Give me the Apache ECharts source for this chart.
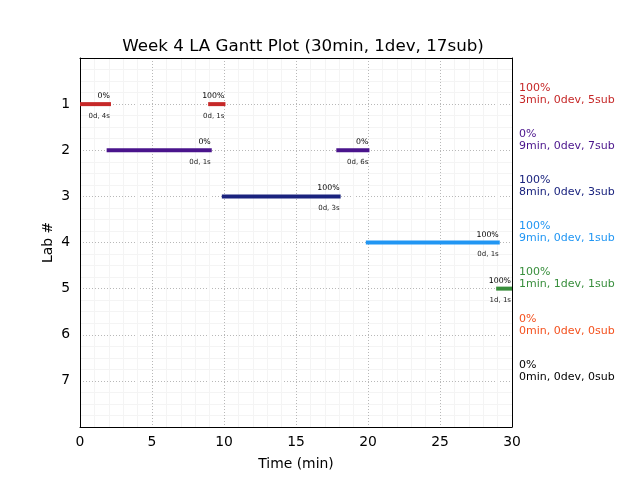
<!DOCTYPE html>
<html>
<head>
<meta charset="utf-8">
<script src="https://cdn.jsdelivr.net/npm/echarts@6/dist/echarts.min.js"></script>
<style>html,body{margin:0;padding:0;background:#fff}#c{width:640px;height:480px}</style>
</head>
<body>
<div id="c"></div>
<script>
// Tasks (one per bar)
var taskLab   = [1, 1, 2, 2, 3, 4, 5];
var taskStart = [0, 8.9, 1.85, 17.8, 9.85, 19.85, 28.9];
var taskEnd   = [2.15, 10.1, 9.15, 20.1, 18.1, 29.15, 30.2];
var taskPct   = ['0%', '100%', '0%', '0%', '100%', '100%', '100%'];
var taskDur   = ['0d, 4s', '0d, 1s', '0d, 1s', '0d, 6s', '0d, 3s', '0d, 1s', '1d, 1s'];

// Per-lab summary (right side)
var labs       = [1, 2, 3, 4, 5, 6, 7];
var labPct     = ['100%', '0%', '100%', '100%', '100%', '0%', '0%'];
var labSummary = ['3min, 0dev, 5sub', '9min, 0dev, 7sub', '8min, 0dev, 3sub', '9min, 0dev, 1sub',
                  '1min, 1dev, 1sub', '0min, 0dev, 0sub', '0min, 0dev, 0sub'];
var labColors  = ['#c62828', '#4a148c', '#1a237e', '#2196f3', '#388e3c', '#f4511e', '#000000'];

var xTicks = [0, 5, 10, 15, 20, 25, 30];
var yTicks = [1, 2, 3, 4, 5, 6, 7];

var FONT = 'DejaVu Sans';
var taskData = taskLab.map(function (l, i) { return [taskStart[i], taskEnd[i], l, i]; });
var labData = labs.map(function (l, i) { return [l, i]; });

var frameAxis = {
  axisLine: {show: true, onZero: false, lineStyle: {color: '#000', width: 1}},
  axisTick: {show: false}, axisLabel: {show: false}, splitLine: {show: false}
};
var split = {show: true, showMinLine: false, showMaxLine: false, lineStyle: {color: '#b8b8b8', type: [1, 2], width: 1}};

var chart = echarts.init(document.getElementById('c'), null, {renderer: 'canvas'});
chart.setOption({
  animation: false,
  backgroundColor: '#fff',
  title: {
    text: 'Week 4 LA Gantt Plot (30min, 1dev, 17sub)',
    left: 298, top: 33, textAlign: 'center',
    textStyle: {fontFamily: FONT, fontSize: 16.7, fontWeight: 'normal', color: '#000'}
  },
  grid: {left: 80, right: 128, top: 58, bottom: 53},
  xAxis: [{
    type: 'value', min: 0, max: 30, interval: 5, position: 'bottom',
    name: 'Time (min)', nameLocation: 'middle', nameGap: 30, nameMoveOverlap: false,
    nameTextStyle: {fontFamily: FONT, fontSize: 13.9, color: '#000'},
    axisLine: {show: true, onZero: false, lineStyle: {color: '#000'}},
    axisTick: {show: false},
    axisLabel: {fontFamily: FONT, fontSize: 13.9, color: '#000', margin: 8,
      formatter: function (v) { return xTicks.indexOf(v) >= 0 ? String(v) : ''; }},
    splitLine: split,
    minorTick: {show: false, splitNumber: 5},
    minorSplitLine: {show: true, lineStyle: {color: '#f4f4f4', width: 1}}
  }, Object.assign({type: 'value', position: 'top', min: 0, max: 30, interval: 5}, frameAxis)],
  yAxis: [{
    type: 'value', min: 0, max: 8, interval: 1, inverse: true, position: 'left',
    name: 'Lab #', nameLocation: 'middle', nameGap: 25, nameRotate: 90, nameMoveOverlap: false,
    nameTextStyle: {fontFamily: FONT, fontSize: 13.9, color: '#000'},
    axisLine: {show: true, onZero: false, lineStyle: {color: '#000'}},
    axisTick: {show: false},
    axisLabel: {fontFamily: FONT, fontSize: 13.9, color: '#000', margin: 10,
      formatter: function (v) { return yTicks.indexOf(v) >= 0 ? String(v) : ''; }},
    splitLine: split,
    minorTick: {show: false, splitNumber: 4},
    minorSplitLine: {show: true, lineStyle: {color: '#f4f4f4', width: 1}}
  }, Object.assign({type: 'value', position: 'right', min: 0, max: 8, interval: 1, inverse: true}, frameAxis)],
  series: [
    {
      type: 'custom', clip: false, z: 5,
      data: taskData,
      renderItem: function (params, api) {
        var i = api.value(3);
        var lab = api.value(2);
        var p0 = api.coord([api.value(0), lab]);
        var p1 = api.coord([api.value(1), lab]);
        var cs = params.coordSys;
        var x0 = Math.max(p0[0], cs.x);
        var x1 = Math.min(p1[0], cs.x + cs.width);
        var color = labColors[lab - 1];
        var labelX = Math.min(p1[0], cs.x + cs.width) - 1;
        return {
          type: 'group',
          children: [
            {type: 'rect', shape: {x: x0, y: p0[1] - 2, width: x1 - x0, height: 4}, style: {fill: color}},
            {type: 'text', style: {text: taskPct[i], x: labelX, y: p0[1] - 8, align: 'right', verticalAlign: 'middle',
              font: '7.8px "DejaVu Sans"', fill: '#000'}},
            {type: 'text', style: {text: taskDur[i], x: labelX, y: p0[1] + 12, align: 'right', verticalAlign: 'middle',
              font: '7px "DejaVu Sans"', fill: '#222'}}
          ]
        };
      }
    },
    {
      type: 'custom', clip: false, z: 5,
      data: labData,
      renderItem: function (params, api) {
        var lab = api.value(0);
        var i = api.value(1);
        var p = api.coord([30, lab]);
        var color = labColors[i];
        return {
          type: 'group',
          children: [
            {type: 'text', style: {text: labPct[i], x: p[0] + 7, y: p[1] - 16, align: 'left', verticalAlign: 'middle',
              font: '11px "DejaVu Sans"', fill: color}},
            {type: 'text', style: {text: labSummary[i], x: p[0] + 7, y: p[1] - 4, align: 'left', verticalAlign: 'middle',
              font: '11px "DejaVu Sans"', fill: color}}
          ]
        };
      }
    }
  ]
});
</script>
</body>
</html>
